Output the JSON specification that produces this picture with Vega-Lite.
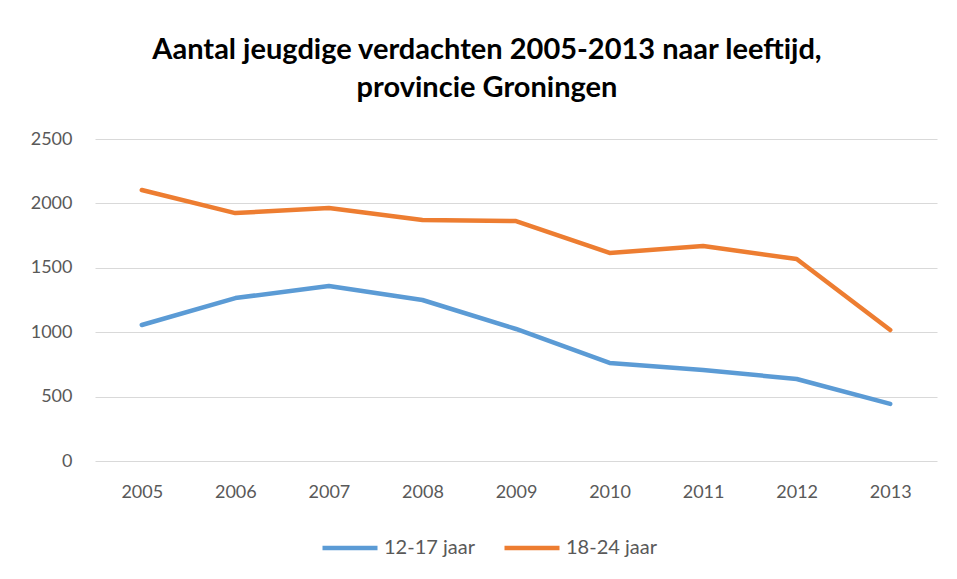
{
  "$schema": "https://vega.github.io/schema/vega-lite/v6.json",
  "autosize": "none",
  "width": 842,
  "height": 322,
  "padding": {"left": 95, "top": 139, "right": 20, "bottom": 118},
  "background": "white",
  "title": {
    "text": ["Aantal jeugdige verdachten 2005-2013 naar leeftijd,", "provincie Groningen"],
    "font": "Lato",
    "fontSize": 29,
    "fontWeight": "bold",
    "color": "#000000",
    "lineHeight": 38,
    "offset": 27,
    "anchor": "middle",
    "dx": -29
  },
  "data": {
    "values": [
      {"jaar": "2005", "groep": "12-17 jaar", "aantal": 1056},
      {"jaar": "2006", "groep": "12-17 jaar", "aantal": 1265},
      {"jaar": "2007", "groep": "12-17 jaar", "aantal": 1359},
      {"jaar": "2008", "groep": "12-17 jaar", "aantal": 1250},
      {"jaar": "2009", "groep": "12-17 jaar", "aantal": 1025},
      {"jaar": "2010", "groep": "12-17 jaar", "aantal": 761},
      {"jaar": "2011", "groep": "12-17 jaar", "aantal": 706},
      {"jaar": "2012", "groep": "12-17 jaar", "aantal": 637},
      {"jaar": "2013", "groep": "12-17 jaar", "aantal": 443},
      {"jaar": "2005", "groep": "18-24 jaar", "aantal": 2104},
      {"jaar": "2006", "groep": "18-24 jaar", "aantal": 1925},
      {"jaar": "2007", "groep": "18-24 jaar", "aantal": 1964},
      {"jaar": "2008", "groep": "18-24 jaar", "aantal": 1871},
      {"jaar": "2009", "groep": "18-24 jaar", "aantal": 1863},
      {"jaar": "2010", "groep": "18-24 jaar", "aantal": 1615},
      {"jaar": "2011", "groep": "18-24 jaar", "aantal": 1669},
      {"jaar": "2012", "groep": "18-24 jaar", "aantal": 1568},
      {"jaar": "2013", "groep": "18-24 jaar", "aantal": 1017}
    ]
  },
  "mark": {"type": "line", "strokeWidth": 4.5, "strokeCap": "round", "strokeJoin": "round"},
  "encoding": {
    "x": {
      "field": "jaar",
      "type": "ordinal",
      "scale": {"type": "point", "padding": 0.5},
      "axis": {
        "title": null,
        "labelAngle": 0,
        "labelFont": "Lato",
        "labelFontSize": 18,
        "labelColor": "#595959",
        "labelPadding": 22,
        "ticks": false,
        "domain": false,
        "grid": false
      }
    },
    "y": {
      "field": "aantal",
      "type": "quantitative",
      "scale": {"domain": [0, 2500]},
      "axis": {
        "title": null,
        "values": [0, 500, 1000, 1500, 2000, 2500],
        "format": "d",
        "labelFont": "Lato",
        "labelFontSize": 18,
        "labelColor": "#595959",
        "labelPadding": 23,
        "ticks": false,
        "domain": false,
        "gridColor": "#D9D9D9",
        "gridWidth": 1.2
      }
    },
    "color": {
      "field": "groep",
      "type": "nominal",
      "scale": {"domain": ["12-17 jaar", "18-24 jaar"], "range": ["#5B9BD5", "#ED7D31"]},
      "legend": {
        "title": null,
        "orient": "none",
        "direction": "horizontal",
        "legendX": 225,
        "legendY": 379,
        "symbolType": "stroke",
        "symbolSize": 3025,
        "symbolStrokeWidth": 4.5,
        "labelFont": "Lato",
        "labelFontSize": 20,
        "labelColor": "#595959",
        "columnPadding": 20,
        "labelOffset": 4
      }
    }
  },
  "config": {
    "view": {"stroke": null}
  }
}
